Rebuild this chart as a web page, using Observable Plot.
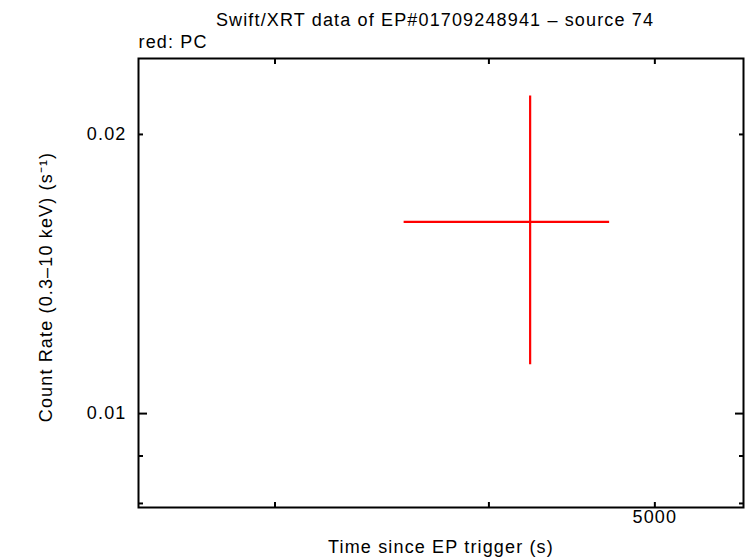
<!DOCTYPE html>
<html>
<head>
<meta charset="utf-8">
<script src="https://cdn.jsdelivr.net/npm/d3@7"></script>
<script src="https://cdn.jsdelivr.net/npm/@observablehq/plot@0.6"></script>
<style>
  html, body { margin: 0; padding: 0; background: #fff; }
  svg { display: block; }
</style>
</head>
<body>
<div id="chart"></div>
<script>
// ---- data ----
const title = "Swift/XRT data of EP#01709248941 \u2013 source 74";
const legendLabel = "red: PC";
const xLabel = "Time since EP trigger (s)";
const yLabel = "Count Rate (0.3\u201310 keV) (s\u207B\u00B9)";

const time = [4228];
const timeLo = [3569];
const timeHi = [4705];
const rate = [0.0161];
const rateLo = [0.01129];
const rateHi = [0.0220];

const xDomain = [2497, 5633];
const yDomain = [0.00792, 0.02415];

const xMinorTicks = [3000, 4000, 5000];
const xLabelTicks = [5000];
const yMajorTicks = [0.01];
const yMinorTicks = [0.008, 0.009, 0.02];
const yLabelTicks = [0.01, 0.02];

const points = time.map((t, i) => ({
  t, tLo: timeLo[i], tHi: timeHi[i], r: rate[i], rLo: rateLo[i], rHi: rateHi[i]
}));

const font = "'Liberation Sans', Arial, Helvetica, sans-serif";
const noLabel = () => "";

const chart = Plot.plot({
  width: 746,
  height: 558,
  marginLeft: 138,
  marginRight: 3,
  marginTop: 58,
  marginBottom: 51,
  style: { fontFamily: font, fontSize: "18px", background: "#fff", color: "#000", letterSpacing: "1.15px" },
  x: { type: "log", domain: xDomain },
  y: { type: "log", domain: yDomain },
  marks: [
    // error bars
    Plot.ruleY(points, { y: "r", x1: "tLo", x2: "tHi", stroke: "#ff0000", strokeWidth: 2.2 }),
    Plot.ruleX(points, { x: "t", y1: "rLo", y2: "rHi", stroke: "#ff0000", strokeWidth: 2.2 }),
    // frame
    Plot.frame({ stroke: "#000", strokeWidth: 2 }),
    // inward ticks
    Plot.axisX({ anchor: "bottom", ticks: xMinorTicks, tickSize: -5, tickFormat: noLabel, strokeWidth: 2, label: null }),
    Plot.axisX({ anchor: "top", ticks: xMinorTicks, tickSize: -5, tickFormat: noLabel, strokeWidth: 2, label: null }),
    Plot.axisY({ anchor: "left", ticks: yMajorTicks, tickSize: -9, tickFormat: noLabel, strokeWidth: 2, label: null }),
    Plot.axisY({ anchor: "right", ticks: yMajorTicks, tickSize: -9, tickFormat: noLabel, strokeWidth: 2, label: null }),
    Plot.axisY({ anchor: "left", ticks: yMinorTicks, tickSize: -5, tickFormat: noLabel, strokeWidth: 2, label: null }),
    Plot.axisY({ anchor: "right", ticks: yMinorTicks, tickSize: -5, tickFormat: noLabel, strokeWidth: 2, label: null }),
    // tick labels
    Plot.axisX({ anchor: "bottom", ticks: xLabelTicks, tickSize: 0, tickPadding: 3, tickFormat: d => String(d), label: null, fontSize: 18 }),
    Plot.axisY({ anchor: "left", ticks: yLabelTicks, tickSize: 0, tickPadding: 12, tickFormat: d => String(d), label: null, fontSize: 18 }),
    // texts
    Plot.text([title], { text: d => d, frameAnchor: "top", dx: -6, dy: -38, lineAnchor: "middle", fontSize: 18 }),
    Plot.text([legendLabel], { text: d => d, frameAnchor: "top-left", textAnchor: "start", dx: 0, dy: -16, lineAnchor: "middle", fontSize: 18 }),
    Plot.text([xLabel], { text: d => d, frameAnchor: "bottom", dx: 0, dy: 40, lineAnchor: "middle", fontSize: 18 }),
    Plot.text([yLabel], { text: d => d, frameAnchor: "left", dx: -92, dy: 4, rotate: -90, textAnchor: "middle", lineAnchor: "middle", fontSize: 18 })
  ]
});

document.getElementById("chart").appendChild(chart);
</script>
</body>
</html>
